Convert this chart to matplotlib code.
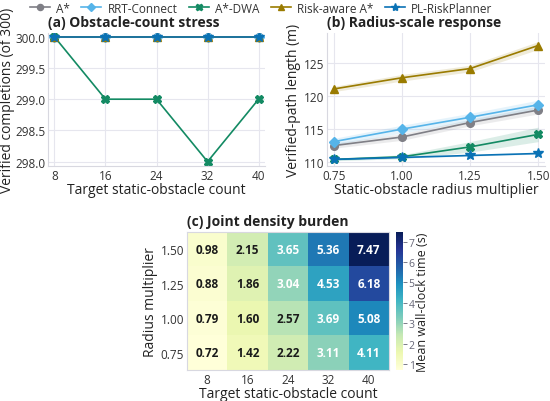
import numpy as np
import matplotlib
matplotlib.use("Agg")
import matplotlib.pyplot as plt

plt.rcParams["font.family"] = ["Open Sans", "DejaVu Sans"]

methods = ["A*", "RRT-Connect", "A*-DWA", "Risk-aware A*", "PL-RiskPlanner"]
colors = ["#7f7f86", "#56b4e9", "#138a63", "#9a7b00", "#0a72b5"]
markers = ["o", "D", "X", "^", "*"]

counts = [8, 16, 24, 32, 40]
completions = {
    "A*": [300, 300, 300, 300, 300],
    "RRT-Connect": [300, 300, 300, 300, 300],
    "A*-DWA": [300, 299, 299, 298, 299],
    "Risk-aware A*": [300, 300, 300, 300, 300],
    "PL-RiskPlanner": [300, 300, 300, 300, 300],
}

radius = [0.75, 1.00, 1.25, 1.50]
path_len = {
    "A*": [112.5, 113.8, 116.0, 117.9],
    "RRT-Connect": [113.1, 115.0, 116.8, 118.7],
    "A*-DWA": [110.4, 110.8, 112.3, 114.2],
    "Risk-aware A*": [121.1, 122.8, 124.2, 127.7],
    "PL-RiskPlanner": [110.4, 110.7, 111.0, 111.3],
}
path_ci = {
    "A*": [0.4, 0.5, 0.5, 0.6],
    "RRT-Connect": [0.5, 0.6, 0.6, 0.7],
    "A*-DWA": [0.2, 0.3, 0.8, 1.1],
    "Risk-aware A*": [0.4, 0.5, 0.5, 0.6],
    "PL-RiskPlanner": [0.1, 0.1, 0.1, 0.1],
}

heat_rows = [1.50, 1.25, 1.00, 0.75]
heat = np.array([
    [0.98, 2.15, 3.65, 5.36, 7.47],
    [0.88, 1.86, 3.04, 4.53, 6.18],
    [0.79, 1.60, 2.57, 3.69, 5.08],
    [0.72, 1.42, 2.22, 3.11, 4.11],
])

grid_c = "#e6e6ee"
spine_c = "#d8d8e0"
text_c = "#222222"
tick_c = "#333333"
LAB = 10
TICK = 8.5


def style_axis(ax):
    ax.grid(True, color=grid_c, lw=0.8)
    ax.set_axisbelow(True)
    for s in ["top", "right"]:
        ax.spines[s].set_visible(False)
    for s in ["left", "bottom"]:
        ax.spines[s].set_color(spine_c)
    ax.tick_params(colors=tick_c, labelsize=TICK, length=0, pad=2)


fig = plt.figure(figsize=(5.5, 4.02), dpi=100)

# (a)
ax_a = fig.add_axes([48 / 550, 1 - 167 / 402, 217 / 550, 133 / 402])
for m, c, mk in zip(methods, colors, markers):
    ax_a.plot(counts, completions[m], color=c, marker=mk, ms=5.5 if mk != "*" else 7.5,
              lw=1.2, label=m)
ax_a.set_xticks(counts)
ax_a.set_yticks([298.0, 298.5, 299.0, 299.5, 300.0])
ax_a.set_yticklabels([f"{v:.1f}" for v in [298.0, 298.5, 299.0, 299.5, 300.0]])
ax_a.set_ylim(297.93, 300.06)
ax_a.set_xlim(7.0, 41.0)
style_axis(ax_a)
ax_a.set_xlabel("Target static-obstacle count", fontsize=LAB, color=text_c, labelpad=0)
ax_a.set_ylabel("Verified completions (of 300)", fontsize=LAB, color=text_c, labelpad=0)
ax_a.set_title("(a) Obstacle-count stress", fontsize=LAB, fontweight="bold",
               loc="left", color=text_c, pad=5)

# (b)
ax_b = fig.add_axes([327 / 550, 1 - 167 / 402, 218 / 550, 133 / 402])
for m, c, mk in zip(methods, colors, markers):
    y = np.array(path_len[m])
    e = np.array(path_ci[m])
    ax_b.fill_between(radius, y - e, y + e, color=c, alpha=0.15, lw=0)
    ax_b.plot(radius, y, color=c, marker=mk, ms=5.5 if mk != "*" else 7.5, lw=1.2)
ax_b.set_xticks(radius)
ax_b.set_xticklabels([f"{v:.2f}" for v in radius])
ax_b.set_yticks([110, 115, 120, 125])
ax_b.set_ylim(109.4, 129.6)
ax_b.set_xlim(0.725, 1.525)
style_axis(ax_b)
ax_b.set_xlabel("Static-obstacle radius multiplier", fontsize=LAB, color=text_c, labelpad=0)
ax_b.set_ylabel("Verified-path length (m)", fontsize=LAB, color=text_c, labelpad=2)
ax_b.set_title("(b) Radius-scale response", fontsize=LAB, fontweight="bold",
               loc="left", color=text_c, pad=5)

handles, labels = ax_a.get_legend_handles_labels()
fig.legend(handles, labels, loc="upper center", bbox_to_anchor=(0.475, 1.02), ncol=5,
           frameon=False, fontsize=8.5, handlelength=1.7, columnspacing=1.0,
           handletextpad=0.5, labelcolor="#333333", markerscale=0.8)

# (c)
ax_c = fig.add_axes([187 / 550, 1 - 371 / 402, 202 / 550, 138 / 402])
im = ax_c.imshow(heat, cmap="YlGnBu", aspect="auto", vmin=heat.min(), vmax=heat.max())
for i in range(heat.shape[0]):
    for j in range(heat.shape[1]):
        v = heat[i, j]
        ax_c.text(j, i, f"{v:.2f}", ha="center", va="center", fontsize=8.5,
                  fontweight="bold", color="white" if v > 2.9 else "#1a1a1a")
ax_c.set_xticks(range(len(counts)))
ax_c.set_xticklabels([str(c) for c in counts])
ax_c.set_yticks(range(len(heat_rows)))
ax_c.set_yticklabels([f"{r:.2f}" for r in heat_rows])
for s in ax_c.spines.values():
    s.set_color(spine_c)
ax_c.tick_params(colors=tick_c, labelsize=TICK, length=0, pad=2)
ax_c.set_xlabel("Target static-obstacle count", fontsize=LAB, color=text_c, labelpad=0)
ax_c.set_ylabel("Radius multiplier", fontsize=LAB, color=text_c, labelpad=2)
ax_c.set_title("(c) Joint density burden", fontsize=LAB, fontweight="bold",
               loc="left", color=text_c, pad=5)

cax = fig.add_axes([396 / 550, 1 - 371 / 402, 7 / 550, 138 / 402])
cb = fig.colorbar(im, cax=cax)
cb.set_ticks([1, 2, 3, 4, 5, 6, 7])
cb.outline.set_visible(False)
cax.tick_params(colors="#666677", labelsize=7.5, length=3, width=0.6, pad=1)
cb.set_label("Mean wall-clock time (s)", fontsize=9, color=text_c, labelpad=1)

fig.savefig("out.png", dpi=100)
